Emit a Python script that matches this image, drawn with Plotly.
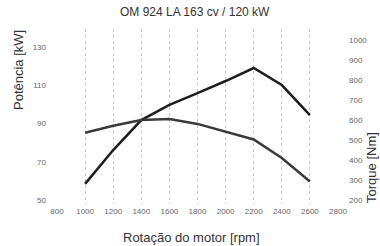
import plotly.graph_objects as go

title_text = "OM 924 LA 163 cv / 120 kW"
rpm = [1000, 1200, 1400, 1600, 1800, 2000, 2200, 2400, 2600]
power_kw = [58.4, 76.1, 91.8, 99.7, 105.9, 112.2, 119.0, 110.1, 94.4]
torque_nm = [538, 573, 602, 607, 582, 543, 504, 411, 293]
x_ticks = [800, 1000, 1200, 1400, 1600, 1800, 2000, 2200, 2400, 2600, 2800]
left_ticks = [50, 70, 90, 110, 130]
right_ticks = [200, 300, 400, 500, 600, 700, 800, 900, 1000]

fig = go.Figure()
fig.add_trace(go.Scatter(x=rpm, y=power_kw, mode="lines", name="Potência",
                         line=dict(color="#1e1e1e", width=2.5)))
fig.add_trace(go.Scatter(x=rpm, y=torque_nm, mode="lines", name="Torque", yaxis="y2",
                         line=dict(color="#3a3a3a", width=2.5)))

tickfont = dict(family="Liberation Sans, Arial, sans-serif", size=8, color="#666666")
fig.update_layout(
    width=380, height=246,
    margin=dict(l=57, r=42, t=29, b=42),
    paper_bgcolor="white", plot_bgcolor="white",
    showlegend=False,
    font=dict(family="Liberation Sans, Arial, sans-serif", color="#333333"),
    xaxis=dict(range=[800, 2800], tickvals=x_ticks, tickfont=tickfont,
               showgrid=True, gridcolor="#c8c8c8", griddash="dot", gridwidth=1,
               zeroline=False, showline=False, ticklabelstandoff=1),
    yaxis=dict(range=[47.9, 139.4], tickvals=left_ticks, tickfont=tickfont,
               showgrid=False, zeroline=False, showline=False, ticklabelstandoff=10),
    yaxis2=dict(range=[180.4, 1058], tickvals=right_ticks, tickfont=tickfont,
                overlaying="y", side="right", showgrid=False, zeroline=False,
                showline=False, ticklabelstandoff=10),
    annotations=[
        dict(text=title_text, xref="paper", yref="paper", x=0.491, y=1.097,
             showarrow=False, font=dict(size=12, color="#333333"), xanchor="center", yanchor="middle"),
        dict(text="Rotação do motor [rpm]", xref="paper", yref="paper", x=0.477, y=-0.189,
             showarrow=False, font=dict(size=13, color="#333333"), xanchor="center", yanchor="middle"),
        dict(text="Potência [kW]", xref="paper", yref="paper", x=-0.135, y=0.766,
             textangle=-90, showarrow=False, font=dict(size=13, color="#333333"),
             xanchor="center", yanchor="middle"),
        dict(text="Torque [Nm]", xref="paper", yref="paper", x=1.121, y=0.206,
             textangle=-90, showarrow=False, font=dict(size=13, color="#333333"),
             xanchor="center", yanchor="middle"),
    ],
)

fig.write_html("out.html",
               config={"displayModeBar": False},
               post_script="document.body.style.margin='0';document.body.style.overflow='hidden';")
